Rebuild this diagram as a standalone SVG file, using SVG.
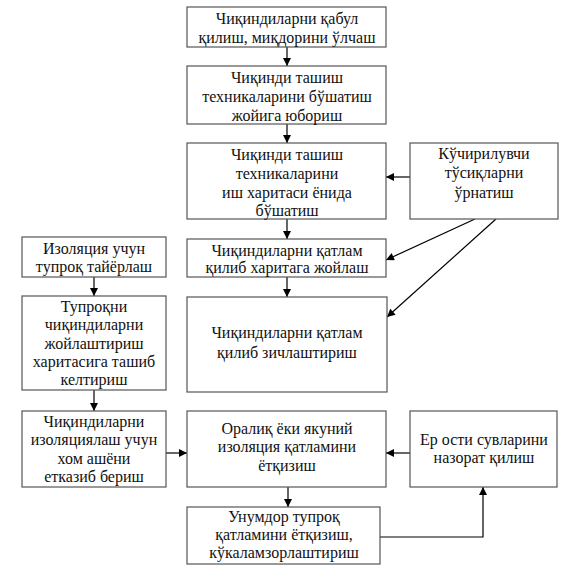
<svg xmlns="http://www.w3.org/2000/svg" width="566" height="574" viewBox="0 0 566 574">
<defs>
<marker id="ah" viewBox="0 0 10 10" refX="10" refY="5" markerWidth="9" markerHeight="8" markerUnits="userSpaceOnUse" orient="auto">
<path d="M0,0 L10,5 L0,10 z" fill="#000"/>
</marker>
<style>
rect{fill:#fff;stroke:#555;stroke-width:1.2}
text{font-family:'Liberation Serif','Times New Roman',Tinos,'DejaVu Serif',serif;font-size:16px;fill:#111;text-anchor:middle}
.c{fill:none;stroke:#000;stroke-width:1.2;marker-end:url(#ah)}
</style>
</defs>
<rect width="566" height="574" style="fill:#fff;stroke:none"/>
<g id="connectors">
<line class="c" x1="287" y1="47" x2="287" y2="66"/>
<line class="c" x1="287" y1="124" x2="287" y2="143"/>
<line class="c" x1="410" y1="177" x2="386" y2="177"/>
<line class="c" x1="287" y1="219" x2="287" y2="239"/>
<line class="c" x1="475" y1="219" x2="386" y2="260"/>
<line class="c" x1="496" y1="219" x2="387" y2="317"/>
<line class="c" x1="287" y1="277" x2="287" y2="297"/>
<line class="c" x1="94" y1="277" x2="94" y2="296"/>
<line class="c" x1="94" y1="390" x2="94" y2="411"/>
<line class="c" x1="166" y1="453" x2="187" y2="453"/>
<line class="c" x1="410" y1="453" x2="386" y2="453"/>
<line class="c" x1="288" y1="487" x2="288" y2="507"/>
<polyline class="c" points="380,537 483,537 483,487"/>
</g>
<g id="n1"><rect x="187" y="7" width="199" height="40"/>
<text x="287" y="24" font-family="Liberation Serif, serif">Чиқиндиларни қабул</text><text x="287" y="43">қилиш, миқдорини ўлчаш</text></g>
<g id="n2"><rect x="187" y="66" width="199" height="58"/>
<text x="287" y="83">Чиқинди ташиш</text><text x="287" y="102">техникаларини бўшатиш</text><text x="287" y="121">жойига юбориш</text></g>
<g id="n3"><rect x="187" y="143" width="199" height="76"/>
<text x="287" y="160">Чиқинди ташиш</text><text x="287" y="179">техникаларини</text><text x="287" y="198">иш харитаси ёнида</text><text x="287" y="216">бўшатиш</text></g>
<g id="n4"><rect x="410" y="143" width="148" height="76"/>
<text x="484" y="159">Кўчирилувчи</text><text x="484" y="178">тўсиқларни</text><text x="484" y="198">ўрнатиш</text></g>
<g id="n5"><rect x="187" y="239" width="199" height="38"/>
<text x="287" y="256">Чиқиндиларни қатлам</text><text x="287" y="273">қилиб харитага жойлаш</text></g>
<g id="n6"><rect x="187" y="297" width="200" height="95"/>
<text x="287" y="338">Чиқиндиларни қатлам</text><text x="287" y="358">қилиб зичлаштириш</text></g>
<g id="n7"><rect x="22" y="237" width="144" height="40"/>
<text x="94" y="254">Изоляция учун</text><text x="94" y="272">тупроқ тайёрлаш</text></g>
<g id="n8"><rect x="22" y="296" width="144" height="94"/>
<text x="94" y="312">Тупроқни</text><text x="94" y="330">чиқиндиларни</text><text x="94" y="349">жойлаштириш</text><text x="94" y="367">харитасига ташиб</text><text x="94" y="385">келтириш</text></g>
<g id="n9"><rect x="22" y="411" width="144" height="76"/>
<text x="94" y="427">Чиқиндиларни</text><text x="94" y="445">изоляциялаш учун</text><text x="94" y="464">хом ашёни</text><text x="94" y="482">етказиб бериш</text></g>
<g id="n10"><rect x="187" y="411" width="199" height="76"/>
<text x="287" y="434">Оралиқ ёки якуний</text><text x="287" y="452">изоляция қатламини</text><text x="287" y="471">ётқизиш</text></g>
<g id="n11"><rect x="410" y="411" width="147" height="76"/>
<text x="484" y="445">Ер ости сувларини</text><text x="484" y="463">назорат қилиш</text></g>
<g id="n12"><rect x="187" y="507" width="193" height="57"/>
<text x="284" y="522">Унумдор тупроқ</text><text x="284" y="540">қатламини ётқизиш,</text><text x="284" y="558">кўкаламзорлаштириш</text></g>
</svg>
